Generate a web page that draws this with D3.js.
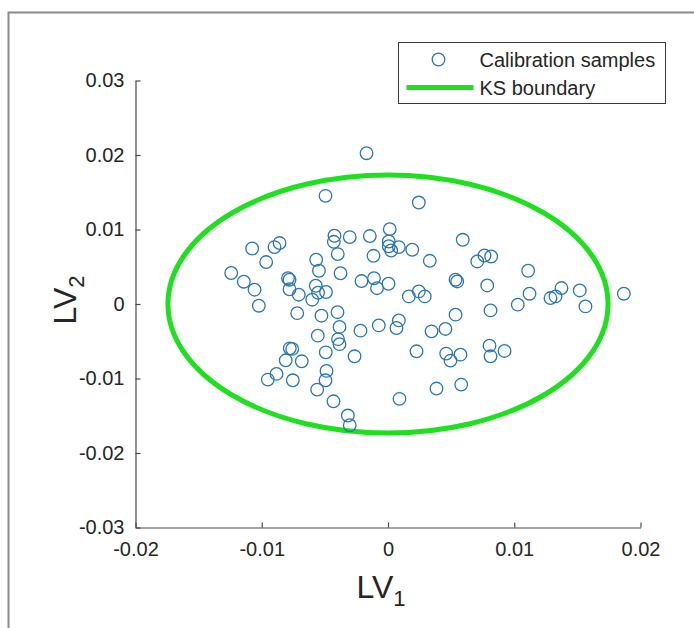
<!DOCTYPE html>
<html>
<head>
<meta charset="utf-8">
<script src="https://d3js.org/d3.v7.min.js"></script>
<style>
  body { margin: 0; background: #fff; }
  svg { display: block; font-family: "Liberation Sans", Arial, sans-serif; }
</style>
</head>
<body>
<svg width="694" height="628"></svg>
<script>
// calibration samples (LV1, LV2)
var lv1 = [
  -0.00170, -0.00495, -0.01076, -0.00899, -0.00859, -0.00965, -0.01242, -0.01142, -0.01057, -0.01023,
  -0.00792, -0.00780, -0.00780, -0.00707, -0.00569, -0.00547, -0.00572, -0.00554, -0.00491, -0.00600,
  -0.00424, -0.00429, -0.00303, -0.00398, -0.00376, -0.00144, -0.00115, -0.00210, -0.00111, -0.00087,
   0.00004,  0.00014,  0.00006,  0.00006,  0.00025,  0.00086,  0.00192,
  -0.00719, -0.00527, -0.00400, -0.00384, -0.00218, -0.00073, -0.00556, -0.00396, -0.00384, -0.00778,
  -0.00759, -0.00493, -0.00265, -0.00810, -0.00683, -0.00883, -0.00952, -0.00754, -0.00487, -0.00495,
  -0.00561, -0.00432, -0.00318, -0.00303,
   0.00244,  0.00592,  0.00331,  0.00707,  0.00764,  0.00817,  0.01110,  0.00535,  0.00548,  0.00786,
   0.00244,  0.00165,  0.00291,  0.01121,  0.01287,  0.01327,  0.01374,  0.01519,  0.01868,  0.01028,
   0.01564,  0.00812,  0.00535,  0.00086,  0.00067,  0.00345,  0.00455,  0.00226,  0.00461,  0.00495,
   0.00574,  0.00804,  0.00812,  0.00923,  0.00384,  0.00580,  0.00091
];
var lv2 = [
   0.02024,  0.01452,  0.00745,  0.00764,  0.00818,  0.00563,  0.00416,  0.00299,  0.00192, -0.00023,
   0.00346,  0.00326,  0.00198,  0.00125,  0.00594,  0.00446,  0.00245,  0.00151,  0.00161,  0.00058,
   0.00916,  0.00835,  0.00898,  0.00670,  0.00413,  0.00912,  0.00647,  0.00308,  0.00346,  0.00212,
   0.00272,  0.01005,  0.00839,  0.00775,  0.00718,  0.00764,  0.00728,
  -0.00123, -0.00157, -0.00110, -0.00308, -0.00358, -0.00287, -0.00425, -0.00472, -0.00539, -0.00595,
  -0.00603, -0.00649, -0.00702, -0.00756, -0.00769, -0.00938, -0.01015, -0.01024, -0.00898, -0.01024,
  -0.01149, -0.01306, -0.01497, -0.01627,
   0.01362,  0.00862,  0.00580,  0.00571,  0.00651,  0.00638,  0.00446,  0.00326,  0.00303,  0.00249,
   0.00169,  0.00102,  0.00102,  0.00138,  0.00080,  0.00102,  0.00214,  0.00182,  0.00138, -0.00009,
  -0.00032, -0.00086, -0.00143, -0.00220, -0.00322, -0.00367, -0.00335, -0.00635, -0.00666, -0.00760,
  -0.00680, -0.00559, -0.00702, -0.00630, -0.01135, -0.01082, -0.01273
];

// KS boundary (centre and half widths in LV units)
var ksCentre = [0, 0];
var ksRadius = [0.01743, 0.01732];

// axes
var xTicks = [-0.02, -0.01, 0, 0.01, 0.02];
var xTickLabels = ["-0.02", "-0.01", "0", "0.01", "0.02"];
var yTicks = [-0.03, -0.02, -0.01, 0, 0.01, 0.02, 0.03];
var yTickLabels = ["-0.03", "-0.02", "-0.01", "0", "0.01", "0.02", "0.03"];

var legendLabels = ["Calibration samples", "KS boundary"];

var samples = lv1.map(function(d, i) { return { x: d, y: lv2[i] }; });

var svg = d3.select("svg");
var markerColor = "#2a76b6",
    boundaryColor = "#1ee01e",
    axisColor = "#4a4a4a",
    textColor = "#262626";

// grey frame of the figure (only top/left edges show)
svg.append("rect")
   .attr("x", 8.5).attr("y", 12.5)
   .attr("width", 720).attr("height", 660)
   .attr("fill", "none")
   .attr("stroke", "#8a8a8a")
   .attr("stroke-width", 2);

var xScale = d3.scaleLinear().domain([-0.02, 0.02]).range([135.5, 640.5]);
var yScale = d3.scaleLinear().domain([-0.03, 0.03]).range([527.5, 80.5]);

// x axis, ticks pointing inwards like matlab
var xAxis = svg.append("g")
   .attr("transform", "translate(0," + yScale(-0.03) + ")")
   .call(d3.axisBottom(xScale)
     .tickValues(xTicks)
     .tickFormat(function(d, i) { return xTickLabels[i]; })
     .tickSizeInner(-5)
     .tickSizeOuter(0)
     .tickPadding(14));

var yAxis = svg.append("g")
   .attr("transform", "translate(" + xScale(-0.02) + ",0)")
   .call(d3.axisLeft(yScale)
     .tickValues(yTicks)
     .tickFormat(function(d, i) { return yTickLabels[i]; })
     .tickSizeInner(-5)
     .tickSizeOuter(0)
     .tickPadding(11));

[xAxis, yAxis].forEach(function(ax) {
  ax.select(".domain").attr("stroke", axisColor).attr("stroke-width", 1.2);
  ax.selectAll(".tick line").attr("stroke", axisColor).attr("stroke-width", 1.2);
  ax.selectAll(".tick text")
    .attr("fill", textColor)
    .style("font-size", "20px")
    .style("font-family", "'Liberation Sans', Arial, sans-serif");
});

// axis titles
var xTitle = svg.append("text")
   .attr("x", 381)
   .attr("y", 598)
   .attr("text-anchor", "middle")
   .attr("fill", textColor)
   .style("font-size", "32px");
xTitle.append("tspan").text("LV");
xTitle.append("tspan").attr("dy", 8).style("font-size", "22px").text("1");

var yTitle = svg.append("text")
   .attr("transform", "translate(76," + (yScale(0) - 4) + ") rotate(-90)")
   .attr("text-anchor", "middle")
   .attr("fill", textColor)
   .style("font-size", "32px");
yTitle.append("tspan").text("LV");
yTitle.append("tspan").attr("dy", 8).style("font-size", "22px").text("2");

// KS boundary
svg.append("ellipse")
   .attr("cx", xScale(ksCentre[0]))
   .attr("cy", yScale(ksCentre[1]))
   .attr("rx", xScale(ksCentre[0] + ksRadius[0]) - xScale(ksCentre[0]))
   .attr("ry", yScale(ksCentre[1]) - yScale(ksCentre[1] + ksRadius[1]))
   .attr("fill", "none")
   .attr("stroke", boundaryColor)
   .attr("stroke-width", 5);

// samples
svg.append("g").selectAll("circle")
   .data(samples)
   .enter()
   .append("circle")
   .attr("cx", function(d) { return xScale(d.x); })
   .attr("cy", function(d) { return yScale(d.y); })
   .attr("r", 6.3)
   .attr("fill", "none")
   .attr("stroke", markerColor)
   .attr("stroke-width", 1.3);

// legend
var legend = svg.append("g").attr("transform", "translate(398.5,42.5)");
legend.append("rect")
   .attr("width", 267).attr("height", 61)
   .attr("fill", "#fff")
   .attr("stroke", "#3a3a3a")
   .attr("stroke-width", 1);
legend.append("circle")
   .attr("cx", 40).attr("cy", 17).attr("r", 6.3)
   .attr("fill", "none")
   .attr("stroke", markerColor)
   .attr("stroke-width", 1.3);
legend.append("line")
   .attr("x1", 8).attr("x2", 75)
   .attr("y1", 45).attr("y2", 45)
   .attr("stroke", boundaryColor)
   .attr("stroke-width", 5);
legend.selectAll("text.lab")
   .data(legendLabels)
   .enter()
   .append("text")
   .attr("class", "lab")
   .attr("x", 81)
   .attr("y", function(d, i) { return 24 + i * 28; })
   .attr("fill", textColor)
   .style("font-size", "20px")
   .text(function(d) { return d; });
</script>
</body>
</html>
